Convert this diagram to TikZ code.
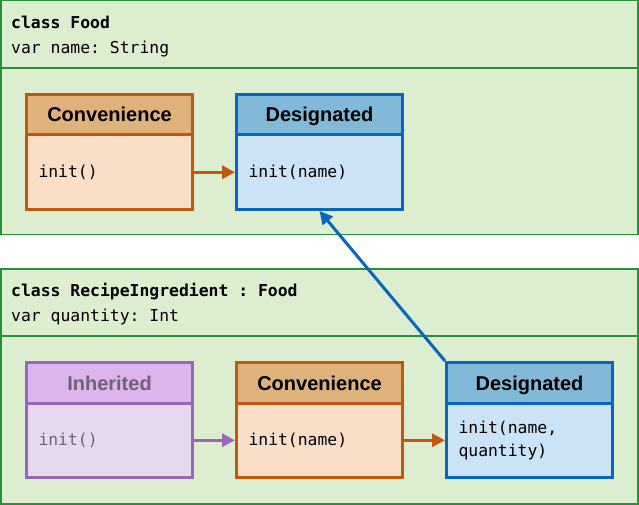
\documentclass[tikz,border=0pt]{standalone}
\usepackage{fontspec}
\setmainfont{Liberation Sans}
\newfontfamily\codefont{DejaVu Sans Mono}
\usetikzlibrary{arrows.meta,positioning}
\frenchspacing

\definecolor{clsline}{HTML}{26903A}
\definecolor{clsfill}{HTML}{DCEDD0}
\definecolor{convline}{HTML}{C0580F}
\definecolor{convhead}{HTML}{DFB27C}
\definecolor{convbody}{HTML}{F9DEC8}
\definecolor{convtext}{HTML}{000000}
\definecolor{desline}{HTML}{0766C0}
\definecolor{deshead}{HTML}{82B9D8}
\definecolor{desbody}{HTML}{CCE2F5}
\definecolor{destext}{HTML}{000000}
\definecolor{inhline}{HTML}{9A66B8}
\definecolor{inhhead}{HTML}{DCB4EE}
\definecolor{inhbody}{HTML}{E6D9EE}
\definecolor{inhtext}{HTML}{6E6274}

\newcommand\boxtitlefont{\fontsize{20}{23}\selectfont\bfseries}
\newcommand\boxcodefont{\codefont\fontsize{16.4}{23}\selectfont}

\begin{document}
\begin{tikzpicture}[x=1pt,y=-1pt,
    classbox/.style={draw=clsline, fill=clsfill, line width=1.5pt, anchor=north west,
        minimum width=637pt, inner sep=0pt},
    classtext/.style={anchor=base west, inner sep=0pt, font=\boxcodefont},
    head/.style={draw=#1line, fill=#1head, text=#1text, line width=3pt, anchor=north west,
        minimum width=166pt, minimum height=40.5pt, inner sep=0pt, text height=14.5pt,
        text depth=0pt, font=\boxtitlefont},
    body/.style={draw=#1line, fill=#1body, text=#1text, line width=3pt, minimum width=166pt,
        minimum height=74.5pt, text width=142pt, inner xsep=12pt, inner ysep=0pt, align=left,
        font=\boxcodefont},
    flow/.style={draw=#1, line width=3pt, -{Triangle[length=13pt,width=13pt]}}
]
\useasboundingbox (0,0) rectangle (639,505);

% 兩個類別的外框
\node[classbox, minimum height=233.75pt] (food) at (0,0) {};
\node[classbox, minimum height=235.25pt] (recipe) at (0,268) {};
\draw[clsline, line width=1.5pt] (food.west |- 0,68) -- (food.east |- 0,68);
\draw[clsline, line width=1.5pt] (recipe.west |- 0,336) -- (recipe.east |- 0,336);

\node[classtext] (foodname) at (11,29) {\textbf{class Food}};
\node[classtext] (foodvar) at (11,53.5) {var name: String};
\node[classtext] (recipename) at (11,296.5) {\textbf{class RecipeIngredient : Food}};
\node[classtext] (recipevar) at (11,321) {var quantity: Int};

\foreach \n/\x/\y/\c/\t/\b in
{   fconv/25/93/conv/Convenience/{init()},
    fdes/235/93/des/Designated/{init(name)},
    rinh/25/361/inh/Inherited/{init()},
    rconv/235/361/conv/Convenience/{init(name)},
    rdes/445/361/des/Designated/{init(name,\\quantity)}
}
{
    \node[head=\c] (\n head) at (\x,\y) {\t};
    \node[body=\c, below=-3pt of \n head] (\n) {\b};
};

\draw[flow=convline] (fconv) -- (fdes);
\draw[flow=inhline] (rinh) -- (rconv);
\draw[flow=convline] (rconv) -- (rdes);
\draw[flow=desline] (rdeshead.north west) -- (fdes.south);
\end{tikzpicture}
\end{document}
